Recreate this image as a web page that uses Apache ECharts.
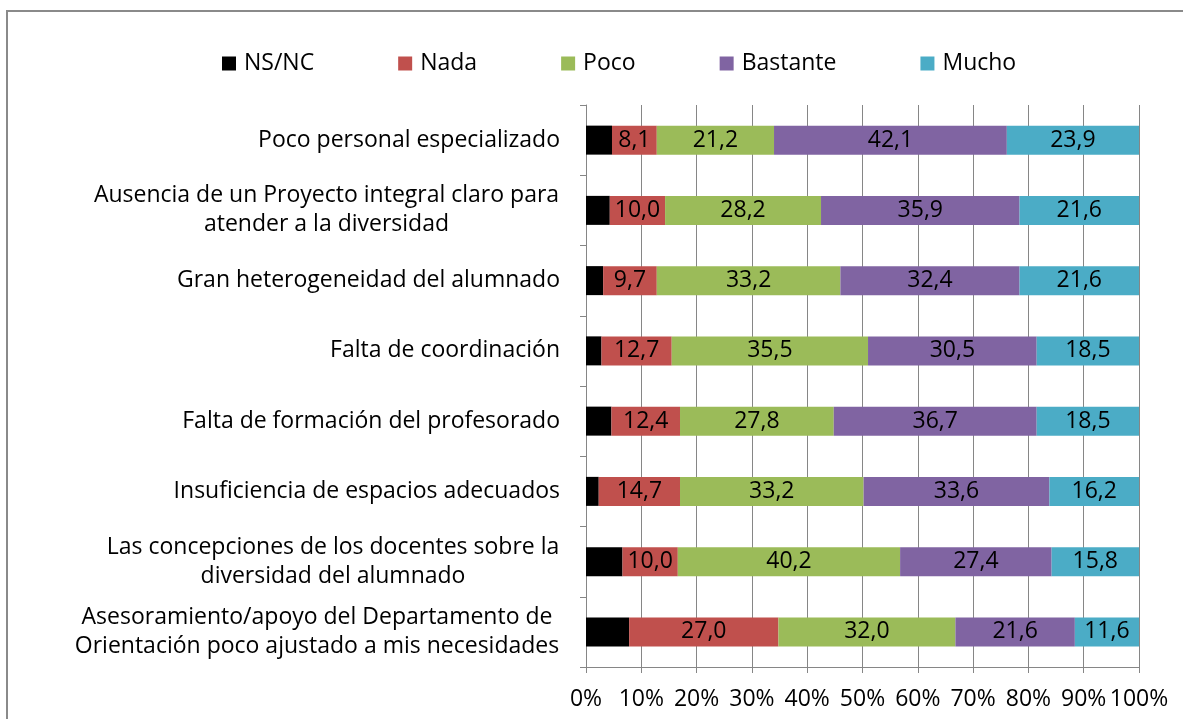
<!DOCTYPE html>
<html>
<head>
<meta charset="utf-8">
<script src="https://cdn.jsdelivr.net/npm/echarts@6/dist/echarts.min.js"></script>
<style>html,body{margin:0;padding:0;background:#fff;}#c{width:1183px;height:719px;}</style>
</head>
<body>
<div id="c"></div>
<script>
var categories = [
  'Poco personal especializado',
  'Ausencia de un Proyecto integral claro para\natender a la diversidad',
  'Gran heterogeneidad del alumnado',
  'Falta de coordinación',
  'Falta de formación del profesorado',
  'Insuficiencia de espacios adecuados',
  'Las concepciones de los docentes sobre la\ndiversidad del alumnado',
  'Asesoramiento/apoyo del Departamento de\nOrientación poco ajustado a mis necesidades'
];
var seriesNames = ['NS/NC', 'Nada', 'Poco', 'Bastante', 'Mucho'];
var nsnc     = [4.7, 4.3, 3.1, 2.8, 4.6, 2.3, 6.6, 7.8];
var nada     = [8.1, 10.0, 9.7, 12.7, 12.4, 14.7, 10.0, 27.0];
var poco     = [21.2, 28.2, 33.2, 35.5, 27.8, 33.2, 40.2, 32.0];
var bastante = [42.1, 35.9, 32.4, 30.5, 36.7, 33.6, 27.4, 21.6];
var mucho    = [23.9, 21.6, 21.6, 18.5, 18.5, 16.2, 15.8, 11.6];

var colors = ['#000000', '#C0504D', '#9BBB59', '#8064A2', '#4BACC6'];
var FONT = 'Open Sans';
var FS = 23;

var cv = document.createElement('canvas').getContext('2d');
cv.font = FS + 'px "' + FONT + '"';
function tw(s){ return cv.measureText(s).width; }

var richStyles = {};
categories.forEach(function(c, i){
  var lines = c.split('\n');
  if (lines.length > 1) {
    richStyles['m' + i] = {
      fontFamily: FONT, fontSize: FS, color: '#000', lineHeight: 29,
      width: Math.ceil(Math.max.apply(null, lines.map(tw))) + 1, align: 'center'
    };
  }
});

function fmt(p){ return p.value.toFixed(1).replace('.', ','); }

var datasets = [nsnc, nada, poco, bastante, mucho];
var series = seriesNames.map(function(n, i){
  return {
    name: n, type: 'bar', stack: 'total', barWidth: 29,
    data: datasets[i],
    itemStyle: { color: colors[i] },
    label: { show: i > 0, position: 'inside', color: '#000', fontFamily: FONT, fontSize: FS, formatter: fmt },
    emphasis: { disabled: true }
  };
});

var chart = echarts.init(document.getElementById('c'));
chart.setOption({
  animation: false,
  backgroundColor: '#fff',
  graphic: [{ type: 'rect', shape: { x: 7, y: 11, width: 1300, height: 900 }, style: { fill: 'none', stroke: '#8a8a8a', lineWidth: 2 }, silent: true }],
  legend: {
    top: 52, left: 222, padding: 0, itemWidth: 14, itemHeight: 14, itemGap: 84, icon: 'rect',
    textStyle: { fontFamily: FONT, fontSize: FS, color: '#000', padding: [0, 0, 0, 3] },
    data: seriesNames
  },
  grid: { left: 586, right: 44, top: 105, bottom: 52 },
  xAxis: {
    type: 'value', min: 0, max: 100, interval: 10,
    axisLine: { show: true, lineStyle: { color: '#868686', width: 1 } },
    axisTick: { show: true, length: 6, lineStyle: { color: '#868686' } },
    splitLine: { show: true, lineStyle: { color: '#868686', width: 1 } },
    axisLabel: { fontFamily: FONT, fontSize: FS, color: '#000', margin: 21, formatter: '{value}%' }
  },
  yAxis: {
    type: 'category', inverse: true, data: categories,
    axisLine: { show: true, lineStyle: { color: '#868686', width: 1 } },
    axisTick: { show: true, length: 6, lineStyle: { color: '#868686' } },
    axisLabel: {
      fontFamily: FONT, fontSize: FS, color: '#000', margin: 26, lineHeight: 29,
      formatter: function(v){
        var lines = v.split('\n');
        if (lines.length === 1) return v;
        var key = 'm' + categories.indexOf(v);
        return lines.map(function(l){ return '{' + key + '|' + l + '}'; }).join('\n');
      },
      rich: richStyles
    }
  },
  series: series
});
</script>
</body>
</html>
